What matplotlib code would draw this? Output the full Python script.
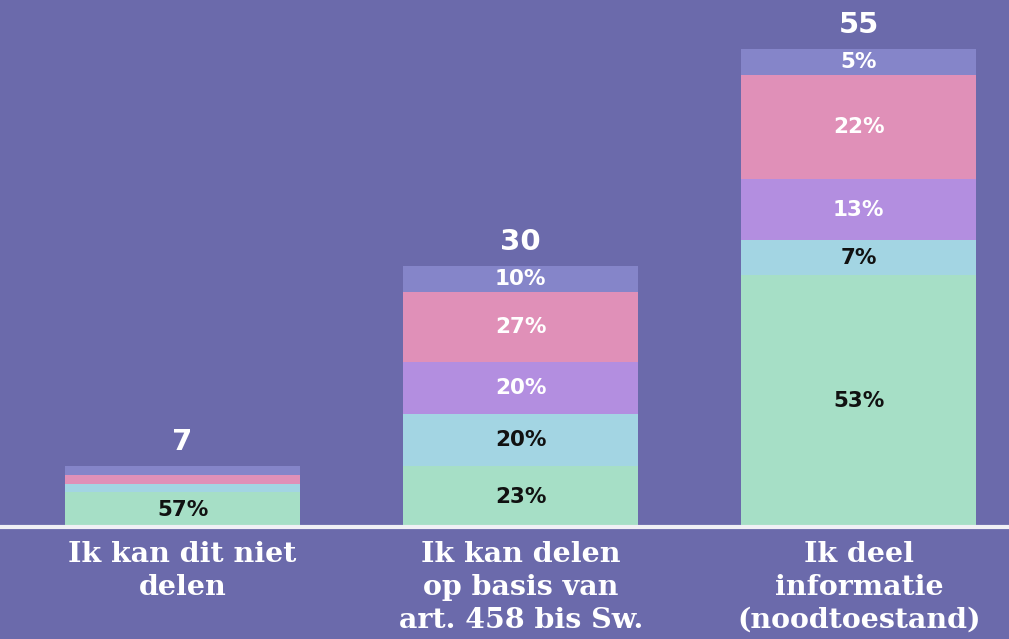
import matplotlib.pyplot as plt
import numpy as np

# Gegevens
categories = ['Ik kan dit niet\ndelen', 'Ik kan delen\nop basis van\nart. 458 bis Sw.',
              'Ik deel\ninformatie\n(noodtoestand)']
green = [4, 7, 29]
blue = [1, 6, 4]
purple = [0, 6, 7]
pink = [1, 8, 12]
top = [1, 3, 3]
green_pct = ['57%', '23%', '53%']
blue_pct = ['', '20%', '7%']
purple_pct = ['', '20%', '13%']
pink_pct = ['', '27%', '22%']
top_pct = ['', '10%', '5%']

bg = '#6b6aab'
series = [
    (green, green_pct, '#a6dfc6', '#111111'),
    (blue, blue_pct, '#a3d5e3', '#111111'),
    (purple, purple_pct, '#b38ee0', 'white'),
    (pink, pink_pct, '#e090b8', 'white'),
    (top, top_pct, '#8585c9', 'white'),
]

fig = plt.figure(figsize=(10.09, 6.39), dpi=100, facecolor=bg)
ax = fig.add_axes([0, 1 - 527 / 639, 1, 527 / 639])
ax.set_facecolor(bg)

x = np.arange(len(categories))
bottom = np.zeros(len(categories))
for vals, labels, color, tcol in series:
    vals = np.array(vals, dtype=float)
    ax.bar(x, vals, width=0.695, bottom=bottom, color=color, edgecolor='none')
    for i in range(len(x)):
        if labels[i]:
            ax.text(x[i], bottom[i] + vals[i] / 2, labels[i], ha='center', va='center',
                    color=tcol, fontsize=15.5, fontweight='bold', family='DejaVu Sans')
    bottom += vals

for i in range(len(x)):
    ax.text(x[i], bottom[i] + 2.8, str(int(bottom[i])), ha='center', va='center',
            color='white', fontsize=21, fontweight='bold', family='DejaVu Sans')

ax.set_xlim(-0.54, 2.445)
ax.set_ylim(0, 527 / 8.69)
ax.axis('off')
ax.axhline(0, color='#f0f0f5', lw=3, clip_on=False)

for i in range(len(x)):
    fig.text((182.5 + 338.2 * i) / 1009, 1 - 541 / 639, categories[i], ha='center', va='top',
             color='white', fontsize=20.5, fontweight='bold', family='DejaVu Serif',
             linespacing=1.28)

fig.savefig('out.png', dpi=100, facecolor=bg)
